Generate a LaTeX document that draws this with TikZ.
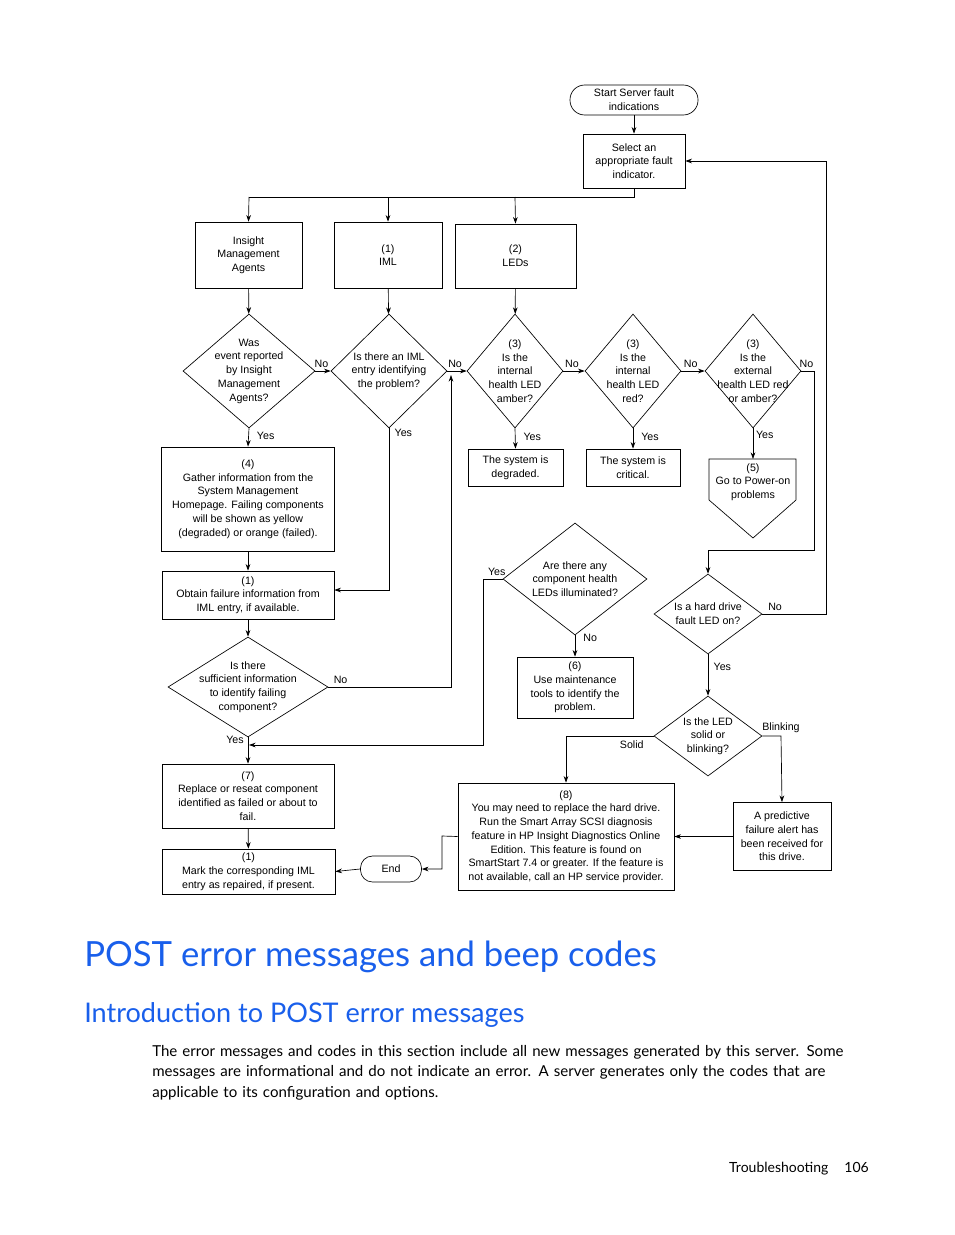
\documentclass[tikz,border=0pt]{standalone}
\usepackage{fontspec}
\setmainfont{Liberation Sans}
\newfontfamily\hpfont{Lato}
\usetikzlibrary{shapes.geometric,arrows.meta}
\definecolor{hpblue}{RGB}{25,95,235}
\begin{document}
\begin{tikzpicture}[x=0.75pt,y=-0.75pt,
  every node/.style={font=\fontsize{8}{10.3}\selectfont,align=center,inner sep=0pt},
  sz/.style 2 args={minimum width=#1*0.75pt,minimum height=#2*0.75pt},
  box/.style={draw,rectangle,line width=0.5pt},
  dia/.style={draw,diamond,line width=0.5pt},
  lab/.style={font=\fontsize{8}{10}\selectfont},
  ar/.style={-{Stealth[length=5pt,width=3.5pt]},line width=0.5pt},
  ln/.style={line width=0.5pt}]
\useasboundingbox (0,0) rectangle (954,1235);
% top
\node[box,rounded corners=11pt,sz={128}{30}] (st) at (634,100) {Start Server fault\\indications};
\node[box,sz={102}{54}] (sel) at (634,161) {Select an\\appropriate fault\\indicator.};
\node[box,sz={107}{66}] (ins) at (248.5,255) {Insight\\Management\\Agents};
\node[box,sz={108}{66}] (iml) at (388,255) {(1)\\IML};
\node[box,sz={121}{64}] (led) at (515.5,256) {(2)\\LEDs};
\draw[ar] (st) -- (sel);
\coordinate (sp) at (634,197);
\draw[ln] (sel.south) -- (sp) -- (249,197);
\draw[ar] (249,197) -- (ins.north);
\draw[ar] (388,197) -- (iml.north);
\draw[ar] (515,197) -- (led.north);
% diamonds row
\node[dia,sz={132}{114}] (d1) at (249,371) {};
\node at (d1) {Was\\event reported\\by Insight\\Management\\Agents?};
\node[dia,sz={116}{114}] (d2) at (389,371) {};
\node at (d2) {Is there an IML\\entry identifying\\the problem?};
\node[dia,sz={96}{114}] (d3) at (515,371) {};
\node at (d3) {(3)\\Is the\\internal\\health LED\\amber?};
\node[dia,sz={96}{114}] (d4) at (633,371) {};
\node at (d4) {(3)\\Is the\\internal\\health LED\\red?};
\node[dia,sz={96}{114}] (d5) at (753,371) {};
\node at (d5) {(3)\\Is the\\external\\health LED red\\or amber?};
\draw[ar] (ins) -- (d1);
\draw[ar] (iml) -- (d2);
\draw[ar] (led) -- (d3);
\draw[ar] (d1.east) -- node[lab,above,pos=0.4,yshift=2pt]{No} (d2.west);
\draw[ar] (d2.east) -- node[lab,above,pos=0.4,yshift=2pt]{No} (d3.west);
\draw[ar] (d3.east) -- node[lab,above,pos=0.4,yshift=2pt]{No} (d4.west);
\draw[ar] (d4.east) -- node[lab,above,pos=0.4,yshift=2pt]{No} (d5.west);
% second row
\node[box,sz={173}{104}] (b4) at (248,499) {(4)\\Gather information from the\\System Management\\Homepage. Failing components\\will be shown as yellow\\(degraded) or orange (failed).};
\node[box,sz={95}{37}] (deg) at (515.5,467.5) {The system is\\degraded.};
\node[box,sz={94}{37}] (cri) at (633,467.5) {The system is\\critical.};
\node (p5) at (753,482) {(5)\\Go to Power-on\\problems};
\coordinate (p5t) at (753,459);
\draw[ln] (709,459) -- (796,459) -- (796,500) -- (753,538) -- (709,500) -- cycle;
\draw[ar] (d1.south) -- node[lab,right,pos=0.4,xshift=6pt]{Yes} (b4.north);
\draw[ar] (d3.south) -- node[lab,right,pos=0.4,xshift=6pt]{Yes} (deg.north);
\draw[ar] (d4.south) -- node[lab,right,pos=0.4,xshift=6pt]{Yes} (cri.north);
\draw[ar] (d5.south) -- node[lab,right,pos=0.2,xshift=2pt]{Yes} (p5t);
\node[box,sz={172}{48}] (b1) at (248,595) {(1)\\Obtain failure information from\\IML entry, if available.};
\draw[ar] (b4) -- (b1);
\draw[ar] (d2.south) -- node[lab,right,pos=0.03,xshift=4pt]{Yes} (389,590) -- (b1.east |- 389,590);
\node[dia,sz={160}{100}] (d7) at (248,687) {};
\node at (d7) {Is there\\sufficient information\\to identify failing\\component?};
\draw[ar] (b1) -- (d7);
\coordinate (up) at (451,375);
\draw[ar] (d7.east) -- node[lab,above,pos=0.1,yshift=2pt]{No} (451,687) -- (up);
\node[dia,sz={144}{112}] (d8) at (575,579) {};
\node at (d8) {Are there any\\component health\\LEDs illuminated?};
\node[box,sz={116}{61}] (b6) at (575,687.5) {(6)\\Use maintenance\\tools to identify the\\problem.};
\draw[ar] (d8.south) -- node[lab,right,pos=0.1,xshift=6pt]{No} (b6.north);
\node[box,sz={172}{64}] (b7) at (248,796) {(7)\\Replace or reseat component\\identified as failed or about to\\fail.};
\draw[ar] (d7.south) -- node[lab,left,pos=0.1,xshift=-3pt]{Yes} (b7.north);
\coordinate (j7) at (249,745);
\draw[ar] (d8.west) -- node[lab,above,pos=0.3,yshift=2pt]{Yes} (483,579) -- (483,745) -- (j7);
\node[box,sz={173}{45}] (b1c) at (248.5,871.5) {(1)\\Mark the corresponding IML\\entry as repaired, if present.};
\draw[ar] (b7) -- (b1c);
% right column
\node[dia,sz={108}{80}] (d6) at (708,614) {};
\node at (d6) {Is a hard drive\\fault LED on?};
\draw[ar] (d5.east) -- node[lab,above,pos=0.4,yshift=2pt]{No} (814,371) -- (814,550) -- (708,550) -- (d6.north);
\draw[ar] (d6.east) -- node[lab,above,pos=0.2,yshift=2pt]{No} (826,614) -- (826,161) -- (sel.east);
\node[dia,sz={108}{80}] (d9) at (708,736) {};
\node at (d9) {Is the LED\\solid or\\blinking?};
\draw[ar] (d6.south) -- node[lab,right,pos=0.3,xshift=4pt]{Yes} (d9.north);
\node[box,sz={216}{107}] (b8) at (566,836.5) {(8)\\You may need to replace the hard drive.\\Run the Smart Array SCSI diagnosis\\feature in HP Insight Diagnostics Online\\Edition. This feature is found on\\SmartStart 7.4 or greater. If the feature is\\not available, call an HP service provider.};
\node[box,sz={98}{68}] (pf) at (782,836.5) {A predictive\\failure alert has\\been received for\\this drive.};
\draw[ar] (d9.west) -- node[lab,below,pos=0.25,yshift=-3pt]{Solid} (566,736) -- (b8.north);
\coordinate (bk) at (781,736);
\draw[ar] (d9.east) -- (bk) -- (pf.north);
\node[lab,anchor=south west] at (762,733) {Blinking};
\draw[ar] (pf.west) -- (b8.east);
\node[box,rounded corners=9pt,sz={61}{26}] (end) at (391,869) {End};
\draw[ar] (b8.west) -- (442,836) -- (442,869) -- (end.east);
\draw[ar] (end.west) -- (b1c.east);
% text
\node[anchor=base west,text=hpblue,font=\hpfont\fontsize{26}{30}\selectfont] (t1) at (84,966) {POST error messages and beep codes};
\node[anchor=base west,text=hpblue,font=\hpfont\fontsize{20.3}{24}\selectfont] (t2) at (84,1022) {Introduction to POST error messages};
\node[anchor=north west,align=left,text width=540pt,font=\hpfont\fontsize{11.3}{15.4}\selectfont] (bd) at (152,1045) {The error messages and codes in this section include all new messages generated by this server. Some\\messages are informational and do not indicate an error. A server generates only the codes that are\\applicable to its configuration and options.};
\node[anchor=base east,font=\hpfont\fontsize{10.5}{12}\selectfont] (ft) at (869,1172) {Troubleshooting\hspace{12pt}106};
\end{tikzpicture}
\end{document}
